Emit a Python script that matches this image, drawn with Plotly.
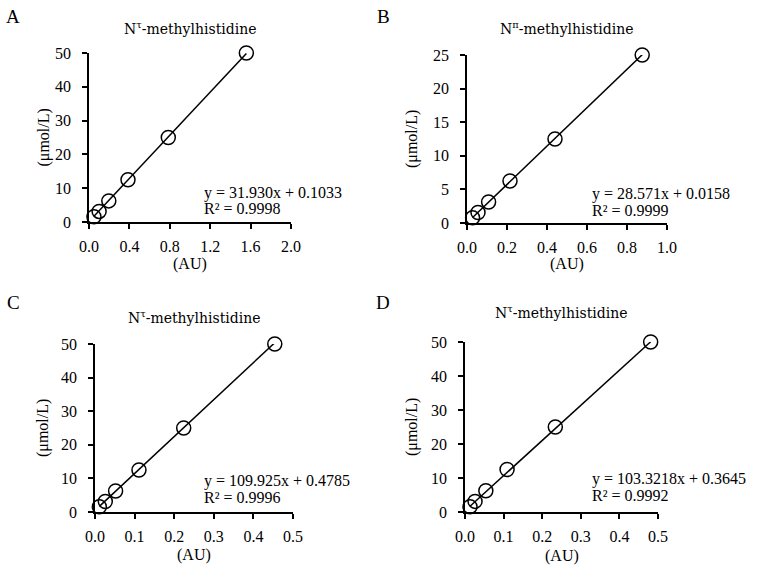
import plotly.graph_objects as go

W, H = 758, 567
FONT = "Liberation Serif"
TFONT = "DejaVu Serif"

# ---- data ----
conc = [1.5625, 3.125, 6.25, 12.5, 25, 50]
conc_b = [0.78125, 1.5625, 3.125, 6.25, 12.5, 25]

a_x = [0.049, 0.100, 0.196, 0.386, 0.785, 1.558]
b_x = [0.028, 0.055, 0.108, 0.215, 0.440, 0.876]
c_x = [0.011, 0.026, 0.052, 0.111, 0.224, 0.454]
d_x = [0.013, 0.026, 0.054, 0.109, 0.234, 0.481]

slopes = [31.930, 28.571, 109.925, 103.3218]
intercepts = [0.1033, 0.0158, 0.4785, 0.3645]
eq_labels = ["y = 31.930x + 0.1033", "y = 28.571x + 0.0158",
             "y = 109.925x + 0.4785", "y = 103.3218x + 0.3645"]
r2_labels = ["R² = 0.9998", "R² = 0.9999", "R² = 0.9996", "R² = 0.9992"]
titles = ["N<sup>τ</sup>-methylhistidine", "N<sup>π</sup>-methylhistidine",
          "N<sup>τ</sup>-methylhistidine", "N<sup>τ</sup>-methylhistidine"]
letters = ["A", "B", "C", "D"]
x_ranges = [[0, 2.0], [0, 1.0], [0, 0.5], [0, 0.5]]
x_dticks = [0.4, 0.2, 0.1, 0.1]
y_ranges = [[0, 50], [0, 25], [0, 50], [0, 50]]
y_dticks = [10, 5, 10, 10]
xs = [a_x, b_x, c_x, d_x]
ys = [conc, conc_b, conc, conc]

# ---- layout geometry (pixels) ----
# (left, right, top, bottom) of each plot area
boxes = [(89, 291, 53, 222), (467, 667, 55, 223), (95, 293, 344, 512), (465, 658, 342, 512)]
title_y = [28, 28, 317, 312]
letter_pos = [(13, 17), (383, 17), (13, 302), (383, 302)]
eq_pos = [(202, 193), (590, 194), (202, 481), (590, 479)]
ylab_x = [43, 412, 43, 412]
xlab_y = [264, 264, 555, 556]

px = lambda v: v / W
py = lambda v: 1 - v / H

fig = go.Figure()
layout = dict(width=W, height=H, margin=dict(l=0, r=0, t=0, b=0, autoexpand=False),
              paper_bgcolor="white", plot_bgcolor="white", showlegend=False,
              font=dict(family=FONT, size=16, color="black"))
annotations = []

for i in range(4):
    sfx = "" if i == 0 else str(i + 1)
    xa, ya = "x" + sfx, "y" + sfx
    l, r, t, b = boxes[i]
    axis_common = dict(showgrid=False, zeroline=False, showline=True, linecolor="black",
                       linewidth=1.5, ticks="outside", ticklen=5, tickwidth=1.5,
                       tickcolor="black", tickfont=dict(family=FONT, size=16, color="black"),
                       fixedrange=True, automargin=False)
    layout["xaxis" + sfx] = dict(domain=[px(l), px(r)], range=x_ranges[i], dtick=x_dticks[i],
                                 tick0=0, tickformat=".1f", anchor=ya,
                                 ticklabelstandoff=4, **axis_common)
    layout["yaxis" + sfx] = dict(domain=[py(b), py(t)], range=y_ranges[i], dtick=y_dticks[i],
                                 tick0=0, anchor=xa, ticklabelstandoff=8, **axis_common)

    xmin, xmax = min(xs[i]), max(xs[i])
    fig.add_trace(go.Scatter(x=[xmin, xmax],
                             y=[slopes[i] * xmin + intercepts[i], slopes[i] * xmax + intercepts[i]],
                             mode="lines", line=dict(color="black", width=1.5),
                             xaxis=xa, yaxis=ya, cliponaxis=False, hoverinfo="skip"))
    fig.add_trace(go.Scatter(x=xs[i], y=ys[i], mode="markers",
                             marker=dict(symbol="circle-open", size=14, color="black",
                                         line=dict(width=1.5, color="black")),
                             xaxis=xa, yaxis=ya, cliponaxis=False))

    annotations.append(dict(x=px((l + r) / 2), y=py(title_y[i]), xref="paper", yref="paper",
                            text=titles[i], showarrow=False, xanchor="center", yanchor="middle",
                            font=dict(family=TFONT, size=14)))
    annotations.append(dict(x=px(letter_pos[i][0]), y=py(letter_pos[i][1]), xref="paper",
                            yref="paper", text=letters[i], showarrow=False, xanchor="center",
                            yanchor="middle", font=dict(family=FONT, size=19)))
    annotations.append(dict(x=px(eq_pos[i][0]), y=py(eq_pos[i][1]), xref="paper", yref="paper",
                            text=eq_labels[i], showarrow=False, xanchor="left", yanchor="middle",
                            font=dict(family=FONT, size=16)))
    annotations.append(dict(x=px(eq_pos[i][0]), y=py(eq_pos[i][1] + 16), xref="paper",
                            yref="paper", text=r2_labels[i], showarrow=False, xanchor="left",
                            yanchor="middle", font=dict(family=FONT, size=16)))
    annotations.append(dict(x=px(ylab_x[i]), y=py((t + b) / 2), xref="paper", yref="paper",
                            text="(μmol/L)", textangle=-90, showarrow=False,
                            xanchor="center", yanchor="middle", font=dict(family=FONT, size=16)))
    annotations.append(dict(x=px((l + r) / 2), y=py(xlab_y[i]), xref="paper", yref="paper",
                            text="(AU)", showarrow=False, xanchor="center", yanchor="middle",
                            font=dict(family=FONT, size=16)))

layout["annotations"] = annotations
fig.update_layout(**layout)
fig.write_html("out.html", config={"displayModeBar": False},
               post_script="document.body.style.margin='0';")
